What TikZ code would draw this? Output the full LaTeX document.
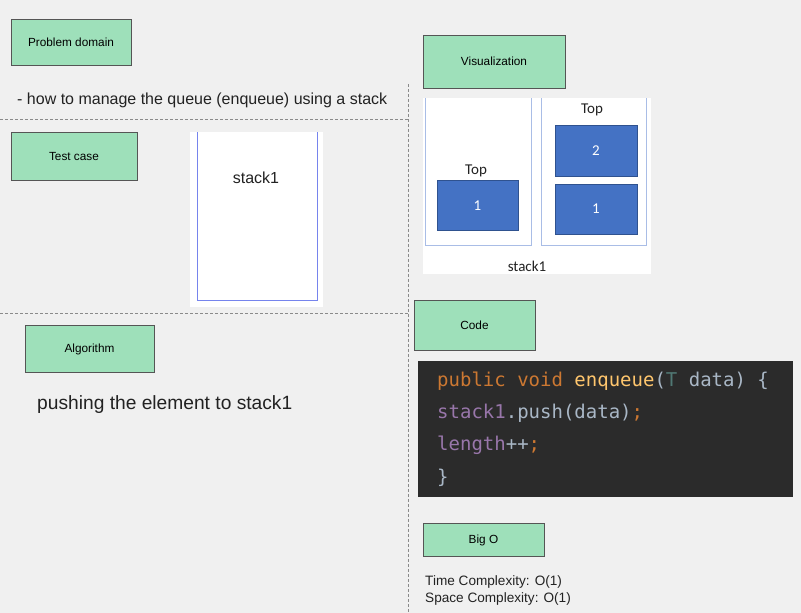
\documentclass[tikz,border=0pt]{standalone}
\usepackage{fontspec}
\setmainfont{Liberation Sans}
\newfontfamily\calib{Carlito}
\newfontfamily\codefont{DejaVu Sans Mono}
\definecolor{bg}{HTML}{F0F0F0}
\definecolor{boxfill}{HTML}{9EE0BA}
\definecolor{boxline}{HTML}{555555}
\definecolor{dash}{HTML}{8A8A8A}
\definecolor{stkline}{HTML}{A9BDE6}
\definecolor{blk}{HTML}{4472C4}
\definecolor{blkline}{HTML}{2F528F}
\definecolor{codebg}{HTML}{2B2B2B}
\definecolor{ckw}{HTML}{CC7832}
\definecolor{cfn}{HTML}{FFC66D}
\definecolor{cpl}{HTML}{A9B7C6}
\definecolor{cty}{HTML}{507874}
\definecolor{cvar}{HTML}{9876AA}
\definecolor{txt}{HTML}{222222}
\begin{document}
\begin{tikzpicture}[x=1pt,y=-1pt,
  lbl/.style={draw=boxline, fill=boxfill, line width=1pt, inner sep=0pt, font=\fontsize{11.8}{13}\selectfont, text=black},
  sep/.style={draw=dash, line width=1.2pt, dash pattern=on 3pt off 2pt},
  body/.style={anchor=mid west, inner sep=0pt, text=txt},
  blkbox/.style={draw=blkline, fill=blk, line width=0.8pt, text=white, font=\calib\fontsize{15}{17}\selectfont},
  codeline/.style={anchor=mid west, inner sep=0pt, font=\codefont\fontsize{19}{22}\selectfont}]
\useasboundingbox (0,0) rectangle (801,613);
\fill[bg] (0,0) rectangle (801,613);
% separators
\draw[sep] (0,119.5) -- (408,119.5);
\draw[sep] (0,313.5) -- (408,313.5);
\draw[sep] (408.5,84) -- (408.5,613);
% Problem domain
\node[lbl, minimum width=120, minimum height=46] (pd) at (71,42.5) {Problem domain};
\node[body, font=\fontsize{16}{18}\selectfont] (pdt) at (17,102) {- how to manage the queue (enqueue) using a stack};
% Test case
\node[lbl, minimum width=126, minimum height=48] (tc) at (74,156) {Test case};
\fill[white] (190,132) rectangle (323,307);
\draw[draw=stkline!70!blue, line width=0.9pt] (197.5,132) -- (197.5,300.5) -- (317.5,300.5) -- (317.5,132);
\node[inner sep=0pt, font=\fontsize{16}{18}\selectfont, text=txt] (ts) at (256,178) {stack1};
% Algorithm
\node[lbl, minimum width=129, minimum height=47] (al) at (89.5,349) {Algorithm};
\node[body, font=\fontsize{19.2}{22}\selectfont] (alt) at (37,407) {pushing the element to stack1};
% Visualization
\node[lbl, minimum width=142, minimum height=53] (vz) at (494,61.5) {Visualization};
\fill[white] (423,98) rectangle (651,274);
\draw[stkline, line width=0.9pt] (425.5,98) -- (425.5,245.5) -- (531.5,245.5) -- (531.5,98);
\draw[stkline, line width=0.9pt] (541.5,98) -- (541.5,245.5) -- (646.5,245.5) -- (646.5,98);
\node[inner sep=0pt, font=\calib\fontsize{15}{17}\selectfont, text=txt] (top1) at (476,171) {Top};
\node[blkbox, minimum width=81, minimum height=50, inner sep=0pt] (b1) at (477.5,205.5) {1};
\node[inner sep=0pt, font=\calib\fontsize{15}{17}\selectfont, text=txt] (top2) at (592,110) {Top};
\node[blkbox, minimum width=82, minimum height=51, inner sep=0pt] (b2) at (596,150.5) {2};
\node[blkbox, minimum width=82, minimum height=50, inner sep=0pt] (b3) at (596,209) {1};
\node[inner sep=0pt, font=\calib\fontsize{15}{17}\selectfont, text=txt] (vs) at (527,266) {stack1};
% Code
\node[lbl, minimum width=121, minimum height=50] (cd) at (474.5,325) {Code};
\fill[codebg] (418,361) rectangle (793,497);
\node[codeline] (c1) at (437,384) {\textcolor{ckw}{public void}\ \textcolor{cfn}{enqueue}\textcolor{cpl}{(}\textcolor{cty}{T}\ \textcolor{cpl}{data) \{}};
\node[codeline] (c2) at (437,416) {\textcolor{cvar}{stack1}\textcolor{cpl}{.push(data)}\textcolor{ckw}{;}};
\node[codeline] (c3) at (437,448) {\textcolor{cvar}{length}\textcolor{cpl}{++}\textcolor{ckw}{;}};
\node[codeline] (c4) at (437,481) {\textcolor{cpl}{\}}};
% Big O
\node[lbl, minimum width=121, minimum height=33] (bo) at (483.5,540) {Big O};
\node[body, font=\fontsize{13.6}{15}\selectfont] (bo1) at (425,583) {Time Complexity: O(1)};
\node[body, font=\fontsize{13.6}{15}\selectfont] (bo2) at (425,600) {Space Complexity: O(1)};
\end{tikzpicture}
\end{document}
